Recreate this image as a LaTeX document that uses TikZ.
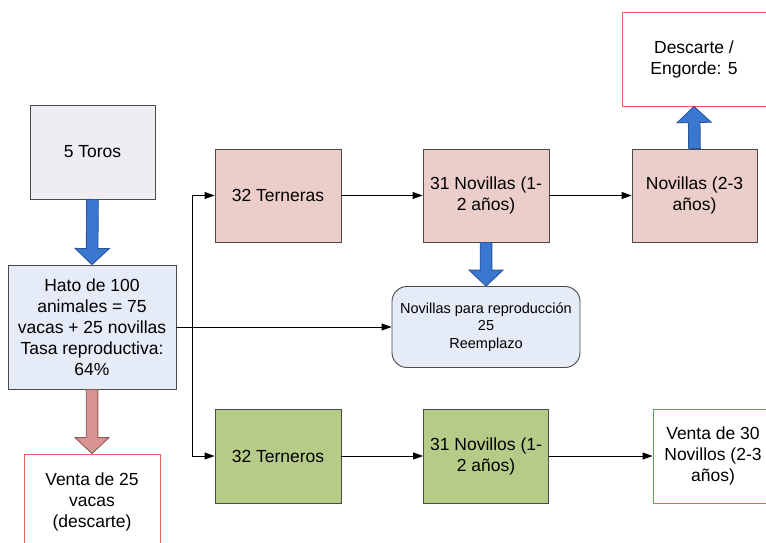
\documentclass[tikz,border=0pt]{standalone}
\usepackage{fontspec}
\setmainfont{Liberation Sans}
\usetikzlibrary{calc,arrows.meta}

\definecolor{boxline}{HTML}{4A4A4A}
\definecolor{redline}{HTML}{E0625B}
\definecolor{torosfill}{HTML}{EFEDF2}
\definecolor{herdfill}{HTML}{E5ECF7}
\definecolor{pinkfill}{HTML}{EBCDCA}
\definecolor{greenfill}{HTML}{B7CB88}
\definecolor{bluearr}{HTML}{3A77D1}
\definecolor{bluearrline}{HTML}{2B5597}
\definecolor{redarr}{HTML}{D99492}
\definecolor{redarrline}{HTML}{8C5A58}

\tikzset{
  base/.style={rectangle, align=center, inner sep=2pt, line width=0.9pt,
    font=\fontsize{17.5}{21}\selectfont},
  graybox/.style={base, draw=boxline, fill=torosfill},
  herdbox/.style={base, draw=boxline, fill=herdfill},
  pinkbox/.style={base, draw=boxline, fill=pinkfill},
  greenbox/.style={base, draw=boxline, fill=greenfill},
  salebox/.style={base, draw=redline, fill=white},
  replbox/.style={base, draw=boxline, fill=herdfill, rounded corners=15pt,
    font=\fontsize{14.5}{17.5}\selectfont},
  conn/.style={draw=black, line width=0.9pt,
    -{Triangle[length=10pt,width=7pt]}},
  plainline/.style={draw=black, line width=0.9pt},
  bluefat/.style={fill=bluearr, draw=bluearrline, line width=0.9pt},
  redfat/.style={fill=redarr, draw=redarrline, line width=0.9pt},
}

% Block arrow from #2 to #3, drawn with style #1
\newcommand\blockarr[3]{%
  \coordinate (ba-h) at ($(#3)!16pt!(#2)$);
  \draw[#1] ($(#2)!5.8pt!90:(#3)$) -- ($(ba-h)!5.8pt!90:(#3)$)
    -- ($(ba-h)!17pt!90:(#3)$) -- (#3) -- ($(ba-h)!17pt!-90:(#3)$)
    -- ($(ba-h)!5.8pt!-90:(#3)$) -- ($(#2)!5.8pt!-90:(#3)$) -- cycle;}

\begin{document}
\begin{tikzpicture}[x=1pt,y=-1pt]
\clip (0,0) rectangle (766,542);
\fill[white] (0,0) rectangle (766,542);

% left column
\node[graybox, minimum width=125pt, minimum height=94pt] (toros) at (92.5,152) {5 Toros};
\node[herdbox, minimum width=168pt, minimum height=124pt] (hato) at (92,327)
  {Hato de 100\\animales = 75\\vacas + 25 novillas\\Tasa reproductiva:\\64\%};
\node[salebox, minimum width=136pt, minimum height=96pt] (venta25) at (92,502)
  {Venta de 25\\vacas\\(descarte)};

% heifer row
\node[pinkbox, minimum width=126pt, minimum height=93pt] (terneras) at (278,195.5) {32 Terneras};
\node[pinkbox, minimum width=126pt, minimum height=93pt] (novillas) at (486,195.5) {31 Novillas (1-\\2 años)};
\node[pinkbox, minimum width=125pt, minimum height=93pt] (nov23) at (694.5,195.5) {Novillas (2-3\\años)};
\node[salebox, minimum width=144pt, minimum height=94pt] (descarte) at (694,59) {Descarte /\\Engorde: 5};

% replacement heifers
\node[replbox, minimum width=188pt, minimum height=81pt] (repro) at (486,327)
  {Novillas para reproducción\\25\\Reemplazo};

% steer row
\node[greenbox, minimum width=126pt, minimum height=94pt] (terneros) at (278,456) {32 Terneros};
\node[greenbox, minimum width=125pt, minimum height=94pt] (novillos) at (486,456) {31 Novillos (1-\\2 años)};
\node[salebox, minimum width=120pt, minimum height=94pt] (venta30) at (713,456)
  {Venta de 30\\Novillos (2-3\\años)};

% thin connectors
\coordinate (split) at (192,327);
\draw[conn] (hato.east) -- (repro.west);
\draw[conn] (split) |- (terneras.west);
\draw[conn] (split) |- (terneros.west);
\draw[conn] (terneras.east) -- (novillas.west);
\draw[conn] (novillas.east) -- (nov23.west);
\draw[conn] (terneros.east) -- (novillos.west);
\draw[conn] (novillos.east) -- (venta30.west);

% block arrows
\blockarr{bluefat}{toros.south}{hato.north}
\blockarr{redfat}{hato.south}{venta25.north}
\blockarr{bluefat}{novillas.south}{repro.north}
\blockarr{bluefat}{nov23.north}{descarte.south}
\end{tikzpicture}
\end{document}
